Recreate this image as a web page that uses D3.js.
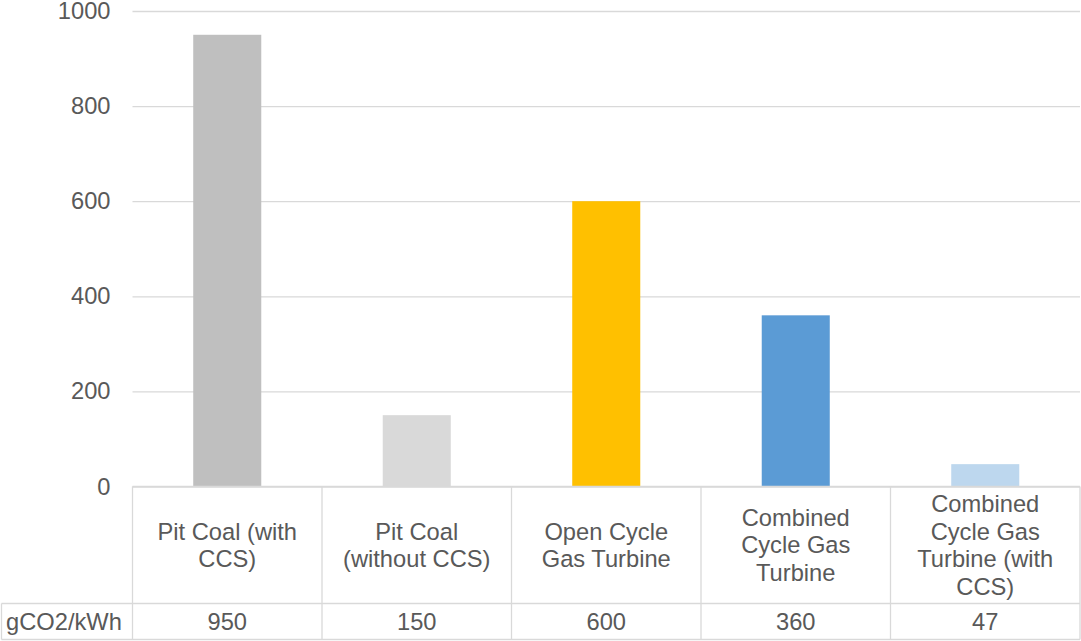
<!DOCTYPE html>
<html>
<head>
<meta charset="utf-8">
<script src="https://cdn.jsdelivr.net/npm/d3@7"></script>
<style>
  html, body { margin: 0; padding: 0; background: #ffffff; }
  svg { display: block; font-family: "Liberation Sans", Arial, sans-serif; }
</style>
</head>
<body>
<svg id="chart" width="1081" height="641"></svg>
<script>
// Emission intensity of fossil power plants
const categories = [
  "Pit Coal (with\nCCS)",
  "Pit Coal\n(without CCS)",
  "Open Cycle\nGas Turbine",
  "Combined\nCycle Gas\nTurbine",
  "Combined\nCycle Gas\nTurbine (with\nCCS)"
];
const values = [950, 150, 600, 360, 47];
const seriesName = "gCO2/kWh";
const barColors = ["#bfbfbf", "#d9d9d9", "#ffc000", "#5b9bd5", "#bdd7ee"];
const yTicks = [0, 200, 400, 600, 800, 1000];

const svg = d3.select("#chart");
const textColor = "#595959";
const lineColor = "#d9d9d9";
const fontSize = 23.7;

const plotLeft = 132.5, plotRight = 1080;
const plotTop = 11, plotBase = 486.5;
const catRowBottom = 603.5, valRowBottom = 639.5, tableLeft = 1.5;

const y = d3.scaleLinear().domain([0, 1000]).range([plotBase, plotTop]);

const x = d3.scaleBand()
  .domain(d3.range(categories.length))
  .range([plotLeft, plotRight])
  .paddingInner(0.641)
  .paddingOuter(0.3205);

const cells = d3.scaleBand()
  .domain(d3.range(categories.length))
  .range([plotLeft, plotRight]);

// Horizontal gridlines with value labels
const yAxis = d3.axisLeft(y)
  .tickValues(yTicks)
  .tickSizeInner(-(plotRight - plotLeft))
  .tickSizeOuter(0)
  .tickPadding(22)
  .tickFormat(d3.format("d"));

const gy = svg.append("g")
  .attr("transform", `translate(${plotLeft},0)`)
  .call(yAxis);
gy.select(".domain").remove();
gy.selectAll(".tick line").attr("stroke", lineColor).attr("stroke-width", 1.3);
gy.selectAll(".tick text")
  .attr("fill", textColor)
  .attr("font-size", fontSize)
  .attr("font-family", "Liberation Sans, Arial, sans-serif");

// Columns
svg.append("g")
  .selectAll("rect")
  .data(values)
  .join("rect")
  .attr("x", (d, i) => x(i))
  .attr("width", x.bandwidth())
  .attr("y", d => y(d))
  .attr("height", d => y(0) - y(d))
  .attr("fill", (d, i) => barColors[i]);

// Data table beneath the plot
const table = svg.append("g")
  .attr("stroke", lineColor)
  .attr("stroke-width", 1.3)
  .attr("fill", "none");

table.append("line").attr("x1", plotLeft).attr("x2", plotRight).attr("y1", plotBase).attr("y2", plotBase);
table.append("line").attr("x1", tableLeft).attr("x2", plotRight).attr("y1", catRowBottom).attr("y2", catRowBottom);
table.append("line").attr("x1", tableLeft).attr("x2", plotRight).attr("y1", valRowBottom).attr("y2", valRowBottom);
table.append("line").attr("x1", tableLeft).attr("x2", tableLeft).attr("y1", catRowBottom).attr("y2", valRowBottom);

const edges = d3.range(categories.length).map(i => cells(i)).concat([plotRight]);
table.selectAll("line.v")
  .data(edges)
  .join("line")
  .attr("class", "v")
  .attr("x1", d => d).attr("x2", d => d)
  .attr("y1", plotBase).attr("y2", valRowBottom);

const lineH = 27.5;
const catMid = (plotBase + catRowBottom) / 2;

const catLabels = svg.append("g")
  .attr("fill", textColor)
  .attr("font-size", fontSize)
  .attr("text-anchor", "middle");

catLabels.selectAll("text")
  .data(categories)
  .join("text")
  .attr("transform", (d, i) => `translate(${cells(i) + cells.bandwidth() / 2},${catMid})`)
  .each(function (d) {
    const lines = d.split("\n");
    d3.select(this).selectAll("tspan")
      .data(lines)
      .join("tspan")
      .attr("x", 0)
      .attr("y", (l, j) => (j - (lines.length - 1) / 2) * lineH)
      .attr("dy", "0.35em")
      .text(l => l);
  });

const valMid = (catRowBottom + valRowBottom) / 2;

svg.append("g")
  .attr("fill", textColor)
  .attr("font-size", fontSize)
  .attr("text-anchor", "middle")
  .selectAll("text")
  .data(values)
  .join("text")
  .attr("x", (d, i) => cells(i) + cells.bandwidth() / 2)
  .attr("y", valMid)
  .attr("dy", "0.35em")
  .text(d => d);

svg.append("text")
  .attr("x", 6)
  .attr("y", valMid)
  .attr("dy", "0.35em")
  .attr("fill", textColor)
  .attr("font-size", fontSize)
  .text(seriesName);
</script>
</body>
</html>
